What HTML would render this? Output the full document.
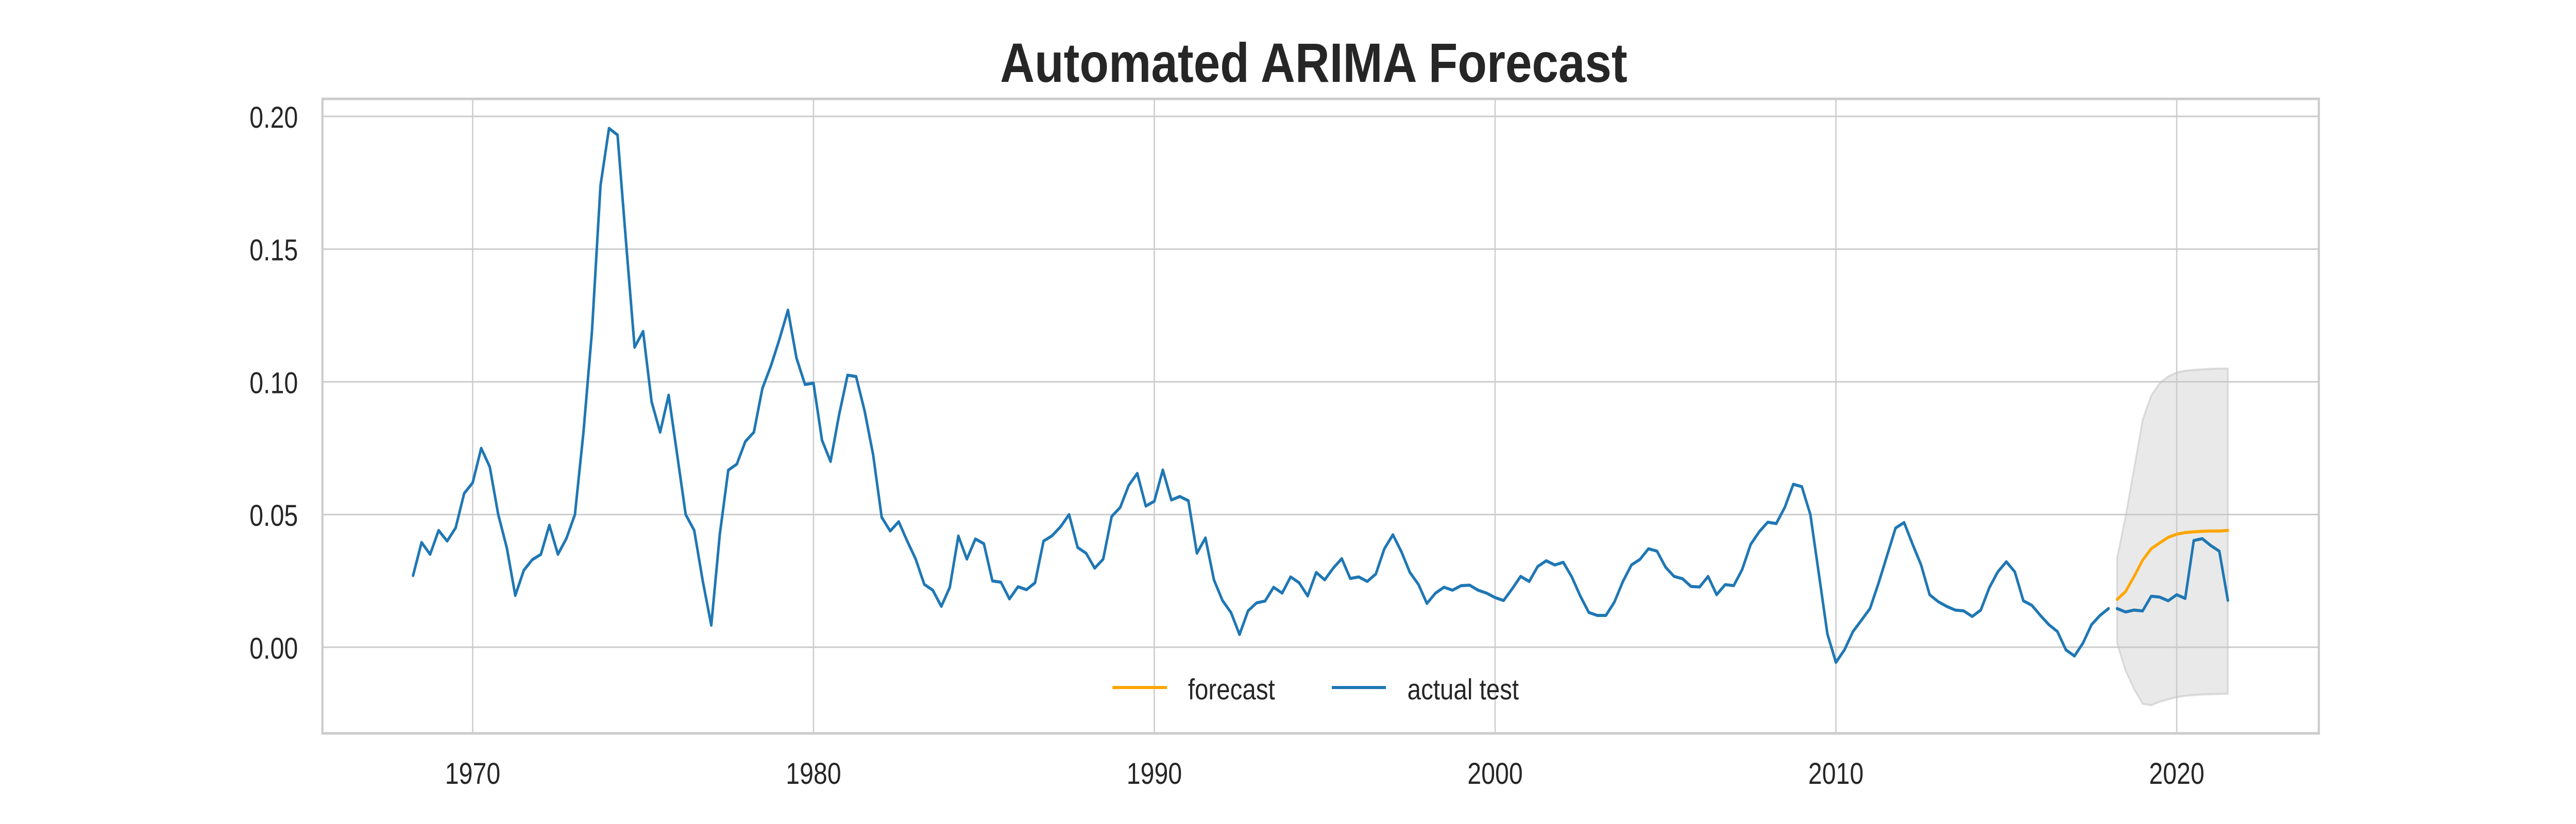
<!DOCTYPE html>
<html><head><meta charset="utf-8"><style>
html,body{margin:0;padding:0;background:#fff;overflow:hidden;width:100%;height:100%;}
svg{display:block;width:100vw;height:100vh;font-family:"Liberation Sans",Arial,sans-serif;}
</style></head><body>
<svg id="chart" viewBox="0 0 6000 1600" preserveAspectRatio="none" xmlns="http://www.w3.org/2000/svg">
<rect width="6000" height="1600" fill="#fff"/>
<text x="3060" y="159" text-anchor="middle" font-size="108" font-weight="bold" fill="#262626" textLength="1461" lengthAdjust="spacingAndGlyphs">Automated ARIMA Forecast</text>
<g id="grid"></g>
<g id="marks"></g>
<rect x="751" y="192" width="4650" height="1232" fill="none" stroke="#cccccc" stroke-width="5"/>
<g id="ticks"></g>
<g id="legend">
<line x1="2591" y1="1335" x2="2718" y2="1335" stroke="#ffa500" stroke-width="6"/>
<text x="2767" y="1358" font-size="57" fill="#262626">forecast</text>
<line x1="3102" y1="1335" x2="3228" y2="1335" stroke="#1f77b4" stroke-width="6"/>
<text x="3278" y="1358" font-size="57" fill="#262626">actual test</text>
</g>
</svg>
<script>
const trainStart = 1968.25;
const trainValues = [0.027,0.0395,0.035,0.044,0.040,0.045,0.058,0.062,0.075,0.068,
0.050,0.0375,0.0195,0.029,0.033,0.035,0.046,0.035,0.041,0.050,
0.081,0.119,0.174,0.1955,0.193,0.1525,0.113,0.119,0.0925,0.081,
0.095,0.0725,0.050,0.044,0.025,0.0083,0.0425,0.0667,0.069,0.0775,
0.081,0.0975,0.106,0.116,0.127,0.109,0.099,0.0995,0.078,0.070,
0.0875,0.1025,0.102,0.089,0.0725,
0.049,0.0438,0.0473,0.040,0.0332,0.0237,0.0215,0.0154,0.0226,0.0419,
0.0332,0.0408,0.039,0.025,0.0245,0.0182,0.0228,0.0217,0.0243,0.040,
0.042,0.0454,0.050,0.0376,0.0354,0.0298,0.0332,0.0493,0.0527,0.061,
0.0655,0.0532,0.055,0.0668,0.0555,0.0568,0.0552,0.0354,0.0412,0.0254,
0.0176,0.0131,0.0048,0.0137,0.0167,0.0174,0.0226,0.0204,0.0265,0.0243,
0.0193,0.0282,0.0254,0.0298,0.0334,0.0259,0.0265,0.0248,0.0276,0.0371,
0.0424,0.036,0.0282,0.0237,0.0165,0.0204,0.0226,0.0215,0.0232,0.0234,
0.0215,0.0204,0.0187,0.0176,0.022,0.0267,0.0248,0.0304,0.0326,0.031,
0.032,0.0265,0.0193,0.0131,0.012,0.012,0.017,0.0248,
0.031,0.0331,0.0371,0.0362,0.0302,0.0267,0.0258,0.0229,0.0227,0.0267,
0.0198,0.0236,0.0232,0.0293,0.0388,0.0435,0.0471,0.0466,0.0527,0.0614,
0.0605,0.050,0.0276,0.005,-0.0057,-0.001,0.0059,0.0102,0.0146,0.0241,
0.0345,0.0449,0.047,0.0388,0.031,0.0198,0.0172,0.0154,0.014,0.0137,
0.0116,0.014,0.0224,0.0284,0.0322,0.0284,0.0175,0.0158,0.012,0.0085,
0.0059,-0.001,-0.0033,0.0016,0.0085,0.012,0.0146];
const testStart = 2018.25;
const testValues = [0.0146,0.0133,0.014,0.0137,0.0192,0.0189,0.0175,0.0198,0.0184,0.0402,0.0409,0.0383,0.0362,0.0177];
const forecastValues = [0.018,0.021,0.0267,0.0328,0.0371,0.0393,0.0414,0.0426,0.0432,0.0435,0.0437,0.0438,0.0438,0.044];
const lowerBound = [0.0016,-0.0088,-0.0158,-0.0213,-0.0218,-0.0205,-0.0196,-0.0188,-0.0183,-0.018,-0.0178,-0.0177,-0.0176,-0.0175];
const upperBound = [0.0336,0.0492,0.0674,0.0856,0.0948,0.0995,0.102,0.1035,0.1042,0.1045,0.1047,0.1049,0.105,0.105];
const xTicks = [1970,1980,1990,2000,2010,2020];
const yTicks = [0.00,0.05,0.10,0.15,0.20];
const yTickLabels = ["0.00","0.05","0.10","0.15","0.20"];

const NS = "http://www.w3.org/2000/svg";
function xs(year){ return 1101 + (year - 1970) * 79.38; }
function ys(v){ return 1256.8 - v / 0.05 * 257.7; }
function mk(tag, attrs, parent){ const e = document.createElementNS(NS, tag); for (const k in attrs) e.setAttribute(k, attrs[k]); parent.appendChild(e); return e; }
const grid = document.getElementById('grid'), marks = document.getElementById('marks'), ticks = document.getElementById('ticks');

xTicks.forEach((t) => {
  const l = mk('line', {x1: xs(t), x2: xs(t), y1: 192, y2: 1424, stroke: '#cccccc', 'stroke-width': 3}, grid);
  
  
  const tx = mk('text', {x: xs(t), y: 1522, 'text-anchor': 'middle', 'font-size': 58, fill: '#262626'}, ticks);
  tx.textContent = String(t);
  
  
});
yTicks.forEach((t, i) => {
  const l = mk('line', {x1: 751, x2: 5401, y1: ys(t), y2: ys(t), stroke: '#cccccc', 'stroke-width': 3}, grid);
  
  
  const tx = mk('text', {x: 694, y: ys(t) + 22, 'text-anchor': 'end', 'font-size': 58, fill: '#262626'}, ticks);
  tx.textContent = yTickLabels[i];
  
  
});

function pts(start, arr){ return arr.map((v, i) => xs(start + i * 0.25).toFixed(1) + ',' + ys(v).toFixed(1)).join(' '); }

let bandD = 'M' + upperBound.map((v, i) => xs(testStart + i * 0.25).toFixed(1) + ',' + ys(v).toFixed(1)).join(' L');
for (let i = lowerBound.length - 1; i >= 0; i--) bandD += ' L' + xs(testStart + i * 0.25).toFixed(1) + ',' + ys(lowerBound[i]).toFixed(1);
bandD += ' Z';
const band = mk('path', {d: bandD, fill: '#c8c8c8', 'fill-opacity': 0.4, stroke: '#c0c0c0', 'stroke-opacity': 0.5, 'stroke-width': 4}, marks);



const train = mk('polyline', {points: pts(trainStart, trainValues), fill: 'none', stroke: '#1f77b4', 'stroke-width': 6, 'stroke-linejoin': 'round', 'stroke-linecap': 'round'}, marks);


const fc = mk('polyline', {points: pts(testStart, forecastValues), fill: 'none', stroke: '#ffa500', 'stroke-width': 6, 'stroke-linejoin': 'round', 'stroke-linecap': 'round'}, marks);


const test = mk('polyline', {points: pts(testStart, testValues), fill: 'none', stroke: '#1f77b4', 'stroke-width': 6, 'stroke-linejoin': 'round', 'stroke-linecap': 'round'}, marks);


</script>
</body></html>
